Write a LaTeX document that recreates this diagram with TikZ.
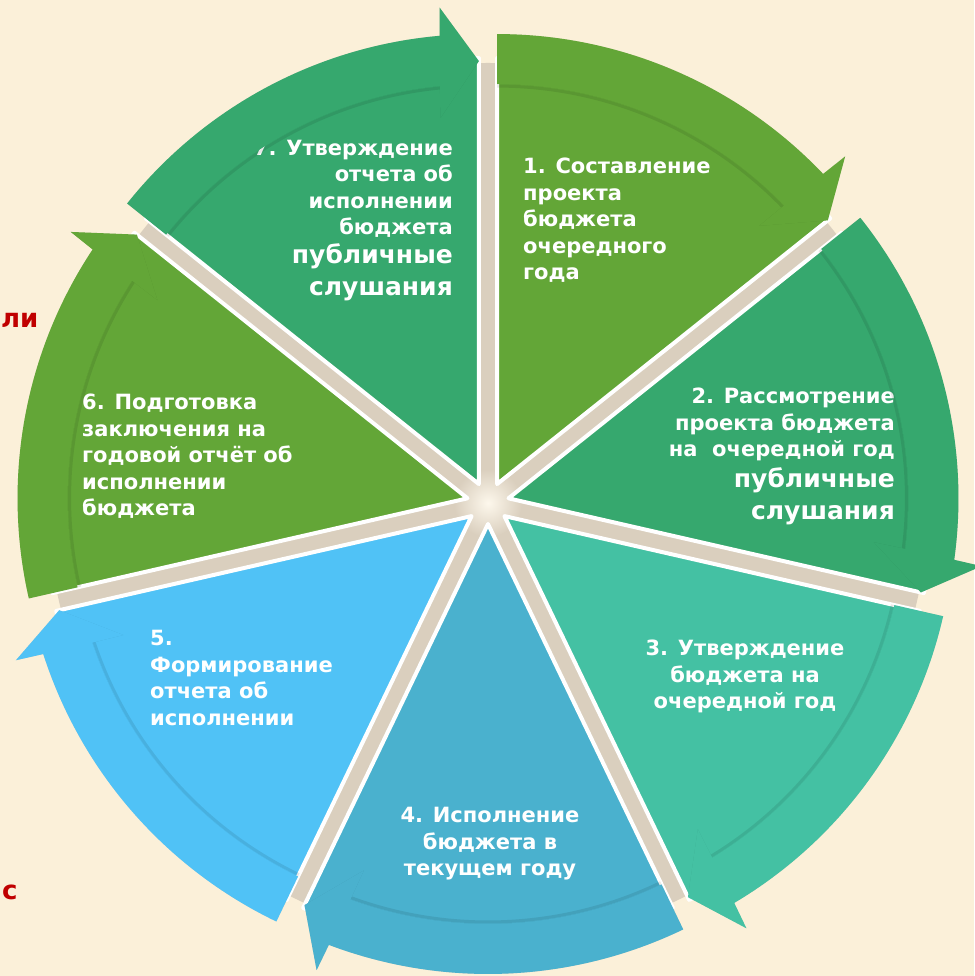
\documentclass[tikz,border=0pt]{standalone}
\usepackage{fontspec}
\setmainfont{DejaVu Sans}[BoldFont={DejaVu Sans Bold}]
\usepackage{tikz}
\usetikzlibrary{calc, positioning}
\definecolor{parchment}{RGB}{251,240,217}
\definecolor{gapbeige}{RGB}{218,207,190}
\definecolor{segolive}{RGB}{99,166,55}
\definecolor{segemerald}{RGB}{54,168,110}
\definecolor{segteal}{RGB}{68,193,163}
\definecolor{segcyan}{RGB}{74,177,206}
\definecolor{segsky}{RGB}{80,194,246}
\definecolor{slidered}{RGB}{192,0,0}

\begin{document}
\begin{tikzpicture}[
    x=1pt, y=1pt,
    wedge/.style={draw=white, line width=4pt, line join=round},
    segtext/.style={text=white, inner sep=0pt, font=\bfseries\fontsize{21}{26.5}\selectfont},
    segbig/.style={text=white, inner sep=0pt, font=\bfseries\fontsize{25}{32}\selectfont},
    frag/.style={text=slidered, inner sep=0pt, font=\bfseries\fontsize{26}{30}\selectfont}
]
    % Background
    \useasboundingbox (0,0) rectangle (974,976);
    \fill[parchment] (0,0) rectangle (974,976);
    \coordinate (c) at (488,473);

    % Slide text cut off at the left
    \node[frag, anchor=west] (frag1) at (1,656) {ли};
    \node[frag, anchor=west] (frag2) at (2,84) {с};

    % Gaps between the slices
    \fill[gapbeige] (c) circle (440);
    \shade[inner color=parchment!50!white, outer color=gapbeige] (c) circle (34);

    % Slices
    \foreach \i/\col in {1/segolive,2/segemerald,3/segteal,4/segcyan,5/segsky,6/segolive,7/segemerald} {
        \pgfmathsetmacro\s{90-(\i-1)*360/7}
        \pgfmathsetmacro\e{\s-360/7}
        \pgfmathsetmacro\m{\s-180/7}
        \coordinate (o\i) at ($(c)+(\m:21)$);
        \filldraw[wedge, fill=\col] (o\i) -- ($(o\i)+(\s:426)$) arc[start angle=\s, end angle=\e, radius=426] -- cycle;
    }

    % Texts
    \node[segtext, align=left, anchor=north west] (t1) at (523,818) {1. Составление\\проекта\\бюджета\\очередного\\года};
    \node[segtext, align=right, anchor=north east] (t2) at (895,588) {2. Рассмотрение\\проекта бюджета\\на\ \ очередной год};
    \node[segbig, align=right, below=6pt of t2.south east, anchor=north east] (t2pub) {публичные\\слушания};
    \node[segtext, align=center, anchor=north] (t3) at (745,336) {3. Утверждение\\бюджета на\\очередной год};
    \node[segtext, align=center, anchor=north] (t4) at (490,169) {4. Исполнение\\бюджета в\\текущем году};
    \node[segtext, align=left, anchor=north west] (t5) at (150,346) {5.\\Формирование\\отчета об\\исполнении};
    \node[segtext, align=left, anchor=north west] (t6) at (82,582) {6. Подготовка\\заключения на\\годовой отчёт об\\исполнении\\бюджета};
    \node[segtext, align=right, anchor=north east] (t7) at (453,836) {7. Утверждение\\отчета об\\исполнении\\бюджета};
    \node[segbig, align=right, below=5pt of t7.south east, anchor=north east] (t7pub) {публичные\\слушания};

    % Arrows round the rim
    \foreach \i/\col in {1/segolive,2/segemerald,3/segteal,4/segcyan,5/segsky,6/segolive,7/segemerald} {
        \pgfmathsetmacro\s{90-(\i-1)*360/7}
        \pgfmathsetmacro\e{\s-360/7}
        \fill[black, opacity=.1, shift={(2,-3)}] ($(o\i)+(\s:400)$) -- ($(o\i)+(\s:450)$) arc[start angle=\s, end angle=\e+5, radius=450] -- ($(o\i)+(\e+4.7:478)$) -- ($(o\i)+(\e:423)$) -- ($(o\i)+(\e+6:368)$) -- ($(o\i)+(\e+5.6:400)$) arc[start angle=\e+5.6, end angle=\s, radius=400] -- cycle;
        \draw[black, opacity=.09, line width=3pt] ($(o\i)+(\s:398)$) arc[start angle=\s, end angle=\e+5.6, radius=398];
        \fill[\col] ($(o\i)+(\s:400)$) -- ($(o\i)+(\s:450)$) arc[start angle=\s, end angle=\e+5, radius=450] -- ($(o\i)+(\e+4.7:478)$) -- ($(o\i)+(\e:423)$) -- ($(o\i)+(\e+6:368)$) -- ($(o\i)+(\e+5.6:400)$) arc[start angle=\e+5.6, end angle=\s, radius=400] -- cycle;
    }
\end{tikzpicture}
\end{document}
